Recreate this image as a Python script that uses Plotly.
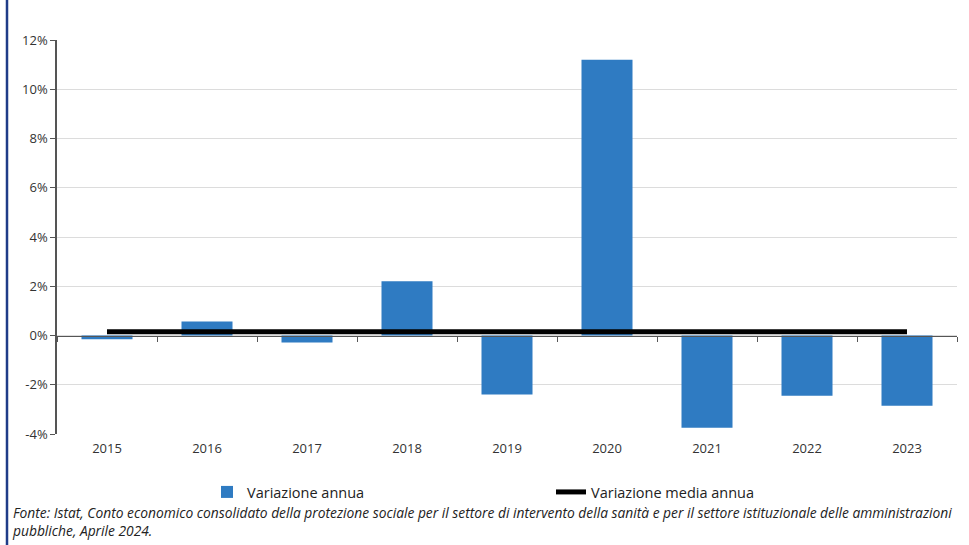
import plotly.graph_objects as go

years = ["2015", "2016", "2017", "2018", "2019", "2020", "2021", "2022", "2023"]
variazione_annua = [-0.15, 0.57, -0.28, 2.2, -2.4, 11.2, -3.75, -2.45, -2.85]
media_annua = [0.15] * len(years)
y_ticks = [-4, -2, 0, 2, 4, 6, 8, 10, 12]
y_tick_labels = ["-4%", "-2%", "0%", "2%", "4%", "6%", "8%", "10%", "12%"]
fonte = ("Fonte: Istat, Conto economico consolidato della protezione sociale per il settore di intervento "
         "della sanità e per il settore istituzionale delle amministrazioni<br>pubbliche, Aprile 2024.")

fig = go.Figure()
fig.add_trace(go.Bar(x=years, y=variazione_annua, name="Variazione annua",
                     marker=dict(color="#2F7BC2", line=dict(width=0))))
fig.add_trace(go.Scatter(x=years, y=media_annua, name="Variazione media annua",
                         mode="lines", line=dict(color="black", width=5), xaxis="x2"))

W, H = 969, 545
L, R, T, B = 57, 12, 40, 111
pw = W - L - R
ph = H - T - B

fig.update_layout(
    width=W, height=H,
    margin=dict(l=L, r=R, t=T, b=B),
    paper_bgcolor="white", plot_bgcolor="white",
    bargap=0.49,
    font=dict(family="Open Sans, Noto Sans, sans-serif", color="#333333"),
    xaxis=dict(type="category", showline=False, ticks="", showgrid=False,
               tickfont=dict(size=13, color="#333333"), range=[-0.5, 8.5],
               ticklabelstandoff=5),
    xaxis2=dict(type="category", overlaying="x", anchor="free", side="bottom",
                position=(0 - y_ticks[0]) / (y_ticks[-1] - y_ticks[0]),
                range=[-0.5, 8.5], showticklabels=False, showgrid=False,
                showline=True, linecolor="#555555", linewidth=1,
                ticks="outside", ticklen=5, tickcolor="#555555", tickson="boundaries"),
    yaxis=dict(range=[y_ticks[0], y_ticks[-1]], tickvals=y_ticks, ticktext=y_tick_labels,
               showline=True, linecolor="#555555", linewidth=1.5, ticks="outside", ticklen=5,
               tickcolor="#555555", showgrid=True, gridcolor="#dcdcdc", gridwidth=1,
               zeroline=False, tickfont=dict(size=13, color="#333333")),
    showlegend=True,
    legend=dict(orientation="h", x=(207 - L) / pw, xanchor="left",
                y=-(476 - (H - B)) / ph, yanchor="top",
                entrywidth=299, entrywidthmode="pixels", font=dict(size=14.5, color="#222222"),
                bgcolor="rgba(0,0,0,0)", itemwidth=30, tracegroupgap=0),
    shapes=[dict(type="line", xref="paper", yref="paper", x0=(7 - L) / pw, x1=(7 - L) / pw,
                 y0=-B / ph, y1=(H - B) / ph + 0.2,
                 line=dict(color="#1f3c88", width=2.5))],
    annotations=[dict(text=fonte, xref="paper", yref="paper", x=(10 - L) / pw,
                      y=(H - B - 501) / ph,
                      xanchor="left", yanchor="top", showarrow=False, align="left",
                      font=dict(size=13.8, color="#222222", family="Open Sans, sans-serif",
                                style="italic"))],
)

fig.write_html("out.html")
